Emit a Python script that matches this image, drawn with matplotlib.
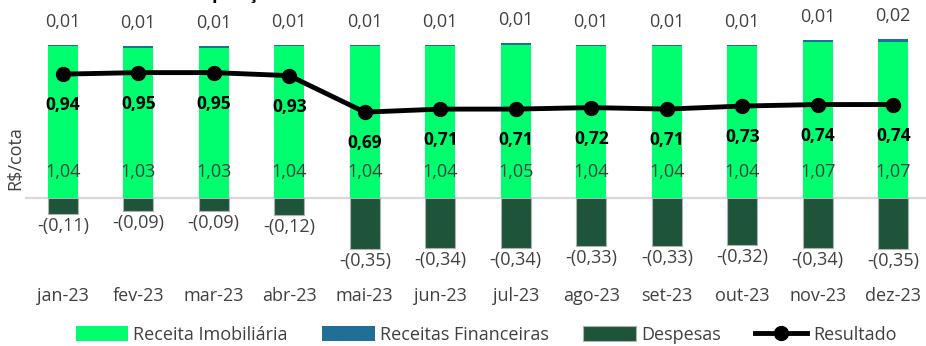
import matplotlib.pyplot as plt
import numpy as np

months = ['jan-23', 'fev-23', 'mar-23', 'abr-23', 'mai-23', 'jun-23',
          'jul-23', 'ago-23', 'set-23', 'out-23', 'nov-23', 'dez-23']
receita_imob = [1.04, 1.03, 1.03, 1.04, 1.04, 1.04, 1.05, 1.04, 1.04, 1.04, 1.07, 1.07]
receita_fin = [0.01, 0.01, 0.01, 0.01, 0.01, 0.01, 0.01, 0.01, 0.01, 0.01, 0.01, 0.02]
despesas = [-0.11, -0.09, -0.09, -0.12, -0.35, -0.34, -0.34, -0.33, -0.33, -0.32, -0.34, -0.35]
resultado = [0.94, 0.95, 0.95, 0.93, 0.69, 0.71, 0.71, 0.72, 0.71, 0.73, 0.74, 0.74]

plt.rcParams['font.family'] = ['Open Sans', 'DejaVu Sans']

c_imob = '#00FF6E'
c_fin = '#1F6F97'
c_desp = '#1E553A'
c_text = '#404040'
fs = 13

W, H = 926, 346
fig = plt.figure(figsize=(W / 100, H / 100), dpi=100)
# axes box in pixels: x 25..931, y 20..280
ax = fig.add_axes([25 / W, 1 - 280 / H, 906 / W, 260 / H])

x = np.arange(len(months))
bw = 0.4
ax.bar(x, receita_imob, bw, color=c_imob, label='Receita Imobiliária', zorder=2)
ax.bar(x, receita_fin, bw, bottom=receita_imob, color=c_fin,
       label='Receitas Financeiras', zorder=2)
ax.bar(x, despesas, bw, color=c_desp, edgecolor='#b0b0b0', linewidth=0.8,
       label='Despesas', zorder=2)
ax.axhline(0, color='#d9d9d9', linewidth=1.6, zorder=1)

ax.set_xlim(-0.5, len(months) - 0.5)
ax.set_ylim(-0.562, 1.219)
ax.set_yticks([])
ax.set_xticks(x)
ax.set_xticklabels(months, fontsize=fs, color=c_text)
ax.tick_params(axis='x', length=0, pad=5)
for s in ax.spines.values():
    s.set_visible(False)

def fmt(v):
    s = f'{abs(v):.2f}'.replace('.', ',')
    return f'-({s})' if v < 0 else s

for i in range(len(months)):
    ax.annotate(fmt(receita_imob[i]), (x[i], 0), xytext=(0, 26),
                textcoords='offset pixels', ha='center', va='center',
                fontsize=fs, color=c_text, zorder=3)
    ax.annotate(fmt(receita_fin[i]), (x[i], receita_imob[i] + receita_fin[i]),
                xytext=(0, 23), textcoords='offset pixels', ha='center',
                va='center', fontsize=fs, color=c_text)
    ax.annotate(fmt(despesas[i]), (x[i], despesas[i]), xytext=(0, -12),
                textcoords='offset pixels', ha='center', va='center',
                fontsize=fs, color=c_text)

ax2 = ax.twinx()
ax2.plot(x, resultado, color='black', linewidth=3.5, marker='o',
         markersize=10, label='Resultado', zorder=4)
ax2.set_ylim(-0.414, 1.296)
ax2.set_yticks([])
for s in ax2.spines.values():
    s.set_visible(False)
for i in range(len(months)):
    ax2.annotate(fmt(resultado[i]), (x[i], resultado[i]), xytext=(0, -31),
                 textcoords='offset pixels', ha='center', va='center',
                 fontsize=12.5, fontweight='bold', color='black')

fig.text(15 / W, 1 - 158 / H, 'R$/cota', rotation=90, ha='center',
         va='center', fontsize=fs, color=c_text)

# title sits mostly above the visible area, as in the source image
fig.text(172 / W, 1 + 1 / H, 'Composição do Resultado', ha='left',
         va='baseline', fontsize=13, fontweight='bold', color='black')

h1, l1 = ax.get_legend_handles_labels()
h2, l2 = ax2.get_legend_handles_labels()
fig.legend(h1 + h2, l1 + l2, loc='center', bbox_to_anchor=(486 / W, 1 - 335 / H),
           ncol=4, frameon=False, fontsize=fs, handlelength=2.9,
           handleheight=0.9, handletextpad=0.3, columnspacing=1.9,
           labelcolor=c_text, borderpad=0.2)

fig.savefig('out.png', dpi=100)
